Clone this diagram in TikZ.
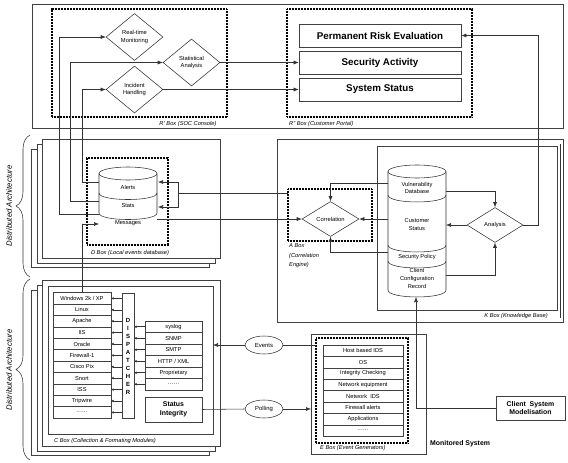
\documentclass[tikz,border=0pt]{standalone}
\usepackage{fontspec}
\setmainfont{Liberation Sans}
\usetikzlibrary{arrows.meta,shapes.geometric,decorations.pathreplacing,fit,calc}
\newcommand\mydotrow{\textperiodcentered\textperiodcentered\textperiodcentered\textperiodcentered\textperiodcentered\textperiodcentered}
\begin{document}
\begin{tikzpicture}[x=1pt,y=-1pt,
  ln/.style={draw=black!80,line width=0.55pt},
  arr/.style={ln,-{Latex[length=5pt,width=4pt]}},
  sarr/.style={ln,-{Latex[length=2.6pt,width=2.6pt]}},
  frame/.style={draw=black!75,line width=0.6pt,fill=white,inner sep=0pt,outer sep=0pt},
  dotbox/.style={draw=black,line width=1.4pt,dash pattern=on 0.9pt off 0.6pt,inner sep=0pt,outer sep=0pt},
  txt/.style={font=\fontsize{5.7}{6.8}\selectfont,inner sep=0pt,align=center},
  lab/.style={font=\fontsize{5.7}{9.5}\selectfont\itshape,inner sep=0pt},
  cell/.style={draw=black!75,line width=0.5pt,fill=white,inner sep=0pt,outer sep=0pt,font=\fontsize{5.7}{6.8}\selectfont},
  bigbox/.style={draw=black!75,line width=0.6pt,minimum width=162pt,minimum height=23pt,inner sep=0pt,font=\fontsize{9.8}{11}\selectfont\bfseries},
  midb/.style={font=\fontsize{6.9}{8.6}\selectfont\bfseries,inner sep=0pt},
  dia/.style={draw=black!80,line width=0.55pt,diamond,minimum width=57pt,minimum height=47pt,inner sep=0pt,fill=white,font=\fontsize{5.8}{7.2}\selectfont,align=center},
  oval/.style={draw=black!80,line width=0.55pt,ellipse,minimum width=38pt,minimum height=18pt,inner sep=0pt,fill=white,font=\fontsize{5.9}{7}\selectfont},
  brc/.style={draw=black!80,line width=0.55pt,decorate,decoration={brace,amplitude=14pt}},
  dist/.style={font=\fontsize{7.8}{9}\selectfont\itshape,rotate=90,inner sep=0pt}
]
\useasboundingbox (0,0) rectangle (568,463);

% ---------------- R box ----------------
\node[frame, fit={(32,4)(563,128)}] (rbox) {};
\node[dotbox, fit={(52,9)(227,117)}] (soc) {};
\node[dotbox, fit={(287,9)(472,117)}] (cp) {};
\node[lab] (soclab) at (188,124) {R' Box (SOC Console)};
\node[lab, anchor=west] (cplab) at (289,124) {R'' Box (Customer Portal)};
\node[bigbox] (pre) at (380,35.5) {Permanent Risk Evaluation};
\node[bigbox] (sa) at (380,62.5) {Security Activity};
\node[bigbox] (ss) at (380,89.5) {System Status};
\node[dia] (rtm) at (134.5,37) {Real-time\\Monitoring};
\node[dia] (stat) at (191.5,62.5) {Statistical\\Analysis};
\node[dia] (inc) at (134.5,89.5) {Incident\\Handling};

% ---------------- D box ----------------
\node[frame, fit={(31,149)(209,267)}] (dback2) {};
\node[frame, fit={(37,144)(215,263)}] (dback1) {};
\node[frame, fit={(42,139)(220,258)}] (dfront) {};
\node[dotbox, fit={(87,158)(168,245)}] (dbox) {};
\node[lab] (dlab) at (130,253) {D Box (Local events database)};
% cylinder
\draw[ln] (128,173.5) ellipse [x radius=29pt, y radius=6.5pt];
\draw[ln] (99,173.5) -- (99,213) .. controls (99,221.7) and (157,221.7) .. (157,213) -- (157,173.5);
\draw[ln] (99,193) .. controls (99,201.7) and (157,201.7) .. (157,193);
\node[txt] (dal) at (128,187) {Alerts};
\node[txt] (dst) at (128,206) {Stats};
\node[txt] (dms) at (128,223) {Messages};
\coordinate (dalL) at (99,182);
\coordinate (dstL) at (99,201);
\coordinate (dmsL) at (99,214);
\coordinate (dalR) at (158,182);
\coordinate (dstR) at (158,207);
\coordinate (dmsR) at (157,219);
\coordinate (dmsIn) at (99,224);
\coordinate (brk) at (178,193);

% ---------------- C box ----------------
\node[frame, fit={(31,290)(209,455)}] (cback2) {};
\node[frame, fit={(37,285)(215,451)}] (cback1) {};
\node[frame, fit={(42,280)(220,446)}] (cfront) {};
\node[frame, fit={(48,286)(213,434)}] (cinner) {};
\node[lab, anchor=west] (clab) at (54,441) {C Box (Collection \& Formating Modules)};
\foreach \t [count=\i] in {{Windows 2k / XP},Linux,Apache,IIS,Oracle,Firewall-1,{Cisco Pix},Snort,ISS,Tripwire,\mydotrow}
  \node[cell, minimum width=58pt, minimum height=11.4pt] (w\i) at (82,{298.4+(\i-1)*11.4}) {\t};
\node[cell, minimum width=12pt, minimum height=125pt] (disp) at (128,355.5) {};
\node[font=\fontsize{6}{8}\selectfont\bfseries, align=center, inner sep=0pt] (disptxt) at (128,356) {D\\I\\S\\P\\A\\T\\C\\H\\E\\R};
\foreach \i in {1,2,3,4,5,6,7,8,9,10,11}
  \draw[sarr] (disp.west |- w\i) -- (w\i.east);
\foreach \t [count=\i] in {syslog,SNMP,SMTP,{HTTP / XML},Proprietary,\mydotrow}
  \node[cell, minimum width=57pt, minimum height=11.5pt] (r\i) at (173.5,{326.75+(\i-1)*11.5}) {\t};
\foreach \i in {1,2,3,4,5,6}
  \draw[sarr] (r\i.west) -- (disp.east |- r\i);
\node[cell, minimum width=57pt, minimum height=25pt, align=center, font=\fontsize{6.9}{8.6}\selectfont\bfseries] (sint) at (173.5,409.5) {Status\\Integrity};

\node[oval] (ev) at (264,345) {Events};
\node[oval] (poll) at (264,409) {Polling};

% ---------------- K box ----------------
\node[frame, fit={(277,139)(563,322)}] (kbox) {};
\draw[ln] (560,144) -- (560,318);
\node[frame, fit={(377,146)(557,310)}] (kinner) {};
\node[lab, anchor=east] (klab) at (548,316.5) {K Box (Knowledge Base)};
\node[dotbox, fit={(288,189)(372,241)}] (abox) {};
\node[lab, anchor=north west, align=left] (alab) at (289,243.5) {A Box\\(Correlation\\Engine)};
\node[dia, minimum width=57pt, minimum height=35pt] (corr) at (330.5,219) {Correlation};
\node[dia, minimum width=56pt, minimum height=35pt] (ana) at (495,225) {Analysis};
% K cylinder
\draw[ln] (417,171.5) ellipse [x radius=29pt, y radius=6.5pt];
\draw[ln] (388,171.5) -- (388,290) .. controls (388,299.3) and (446,299.3) .. (446,290) -- (446,171.5);
\draw[ln] (388,195) .. controls (388,204.3) and (446,204.3) .. (446,195);
\draw[ln] (388,245) .. controls (388,254.3) and (446,254.3) .. (446,245);
\draw[ln] (388,261) .. controls (388,270.3) and (446,270.3) .. (446,261);
\node[txt, font=\fontsize{5.7}{7.8}\selectfont] (kvul) at (417,188) {Vulnerability\\Database};
\node[txt, font=\fontsize{5.7}{7.5}\selectfont] (kcs) at (417,224.5) {Customer\\Status};
\node[txt] (ksp) at (417,257) {Security Policy};
\node[txt, font=\fontsize{5.7}{7.6}\selectfont] (kcc) at (417,278.5) {Client\\Configuration\\Record};
\coordinate (kvL) at (388,183);
\coordinate (kvR) at (446,191);
\coordinate (kcsL) at (388,219);
\coordinate (kcsR) at (446,225);
\coordinate (kspL) at (388,252);
\coordinate (kccR) at (446,275);
\coordinate (kbot) at (416,297);
\coordinate (aL) at (288,193);

% ---------------- E box ----------------
\node[frame, fit={(311,334)(426,454)}] (eout) {};
\node[dotbox, fit={(316,338)(408,443)}] (edot) {};
\foreach \t [count=\i] in {{Host based IDS},OS,{Integrity Checking},{Network equipment},{Network\ \ IDS},{Firewall alerts},Applications,\mydotrow}
  \node[cell, minimum width=80pt, minimum height=11.4pt] (e\i) at (363,{350.7+(\i-1)*11.4}) {\t};
\node[lab, anchor=west] (elab) at (320,448.5) {E Box (Event Generators)};
\node[midb, anchor=west] (mon) at (430,444) {Monitored System};
\node[draw=black!75, line width=0.6pt, midb, minimum width=69pt, minimum height=24pt, align=center] (csm) at (530.5,408) {Client\ \ System\\Modelisation};

% ---------------- Distributed labels ----------------
\draw[brc] (30,277) -- (30,135);
\draw[brc] (30,460) -- (30,279);
\node[dist] (da1) at (9,206) {Distributed Architecture};
\node[dist] (da2) at (9,370) {Distributed Architecture};

% ---------------- connectors ----------------
\draw[arr] (dmsL) -- ++(-40,0) |- (rtm.west);
\draw[arr] (dstL) -- ++(-29,0) |- (stat.west);
\draw[arr] (dalL) -- ++(-17,0) |- (inc.west);
\draw[arr] (stat.east) -- (stat.east -| sa.west);
\draw[arr] (inc.east) -- (inc.east -| ss.west);
\draw[arr] (ana.east) -- ++(15,0) |- (pre.east);
\draw[arr] (kvR) -| (ana.north);
\draw[arr] (kccR) -| (ana.south);
\draw[arr] (ana.west) -- (kcsR);
\draw[arr] (kvL) -| (corr.north);
\draw[arr] (kcsL) -- (corr.east);
\draw[arr] (kspL) -| (corr.south);
\draw[ln] (aL) -- (brk);
\draw[arr] (brk) |- (dalR);
\draw[arr] (brk) |- (dstR);
\draw[arr] (dmsR) -- (corr.west);
\draw[arr] (w1.north) |- (dmsIn);
\draw[arr] (ev.west) -- (ev.west -| cinner.east);
\draw[ln] (ev.east) -- (ev.east -| edot.west);
\draw[ln] (sint.east) -- (poll.west);
\draw[arr] (poll.east) -- (poll.east -| eout.west);
\draw[arr] (csm.west) -| (kbot);
\end{tikzpicture}
\end{document}
